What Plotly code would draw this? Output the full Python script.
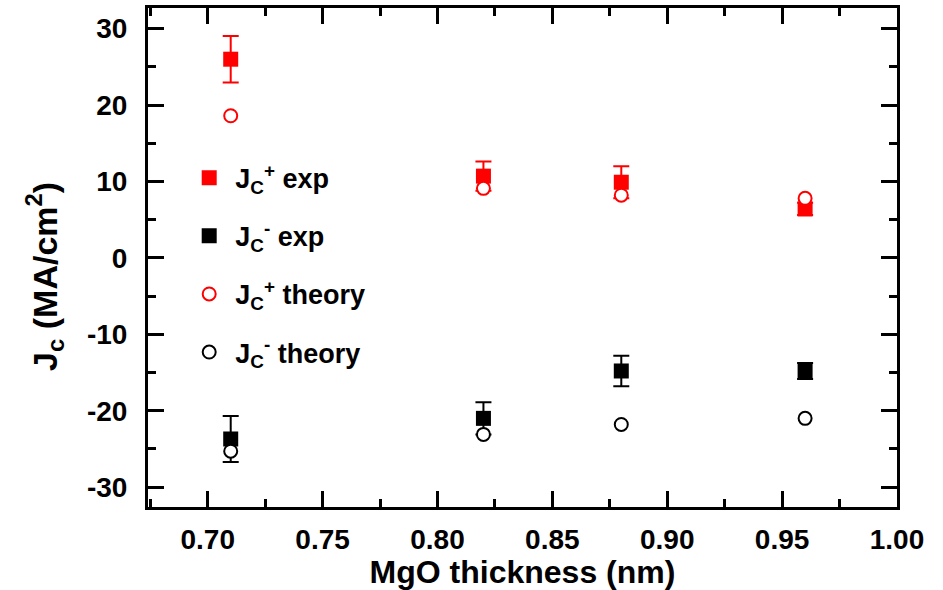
import plotly.graph_objects as go

# Data (MgO thickness in nm, Jc in MA/cm^2)
thickness = [0.71, 0.82, 0.88, 0.96]
jc_plus_exp = [26.0, 10.7, 9.9, 6.4]
jc_plus_exp_err = [3.05, 1.9, 2.1, 0.8]
jc_minus_exp = [-23.7, -21.0, -14.8, -14.8]
jc_minus_exp_err = [3.0, 2.1, 2.0, 1.05]
jc_plus_theory = [18.6, 9.1, 8.2, 7.8]
jc_minus_theory = [-25.3, -23.1, -21.8, -21.0]

x_ticks = [0.70, 0.75, 0.80, 0.85, 0.90, 0.95, 1.00]
x_ticklabels = ["0.70", "0.75", "0.80", "0.85", "0.90", "0.95", "1.00"]
y_ticks = [-30, -20, -10, 0, 10, 20, 30]
y_ticklabels = ["-30", "-20", "-10", "0", "10", "20", "30"]

RED = "#ff0000"
BLACK = "#000000"
FONT = "Liberation Sans, Arial, sans-serif"

fig = go.Figure()

fig.add_trace(go.Scatter(
    x=thickness, y=jc_plus_exp, mode="markers",
    name="<b>J<sub>C</sub><sup>+</sup> exp</b>", legendgroup="a",
    marker=dict(symbol="square", size=15, color=RED, line=dict(width=0)),
    error_y=dict(type="data", array=jc_plus_exp_err, color=RED, thickness=2, width=8),
))
fig.add_trace(go.Scatter(
    x=thickness, y=jc_minus_exp, mode="markers",
    name="<b>J<sub>C</sub><sup>-</sup> exp</b>", legendgroup="b",
    marker=dict(symbol="square", size=15, color=BLACK, line=dict(width=0)),
    error_y=dict(type="data", array=jc_minus_exp_err, color=BLACK, thickness=2, width=8),
))
fig.add_trace(go.Scatter(
    x=thickness, y=jc_plus_theory, mode="markers",
    name="<b>J<sub>C</sub><sup>+</sup> theory</b>", legendgroup="c",
    marker=dict(symbol="circle", size=13, color="white", line=dict(width=2, color=RED)),
))
fig.add_trace(go.Scatter(
    x=thickness, y=jc_minus_theory, mode="markers",
    name="<b>J<sub>C</sub><sup>-</sup> theory</b>", legendgroup="d",
    marker=dict(symbol="circle", size=13, color="white", line=dict(width=2, color=BLACK)),
))

fig.update_layout(
    width=943, height=590,
    margin=dict(l=148, r=46, t=8, b=83),
    paper_bgcolor="white", plot_bgcolor="white",
    font=dict(family=FONT, color="black", size=26),
    legend=dict(
        x=0.047, y=0.708, xanchor="left", yanchor="top",
        bgcolor="rgba(0,0,0,0)", borderwidth=0,
        font=dict(family=FONT, size=27, color="black"),
        traceorder="grouped", tracegroupgap=20, itemwidth=42,
    ),
    xaxis=dict(
        range=[0.674, 1.0], automargin=False,
        tickmode="array", tickvals=x_ticks, ticktext=x_ticklabels,
        ticks="inside", ticklen=16, tickwidth=3, tickcolor="black",
        minor=dict(dtick=0.025, ticks="inside", ticklen=8, tickwidth=3, tickcolor="black"),
        showline=True, linewidth=3, linecolor="black", mirror="allticks",
        showgrid=False, zeroline=False,
        tickfont=dict(family=FONT, size=28, color="black", weight="bold"),
        ticklabelstandoff=5,
        title=dict(text="<b>MgO thickness (nm)</b>", font=dict(family=FONT, size=32, color="black"), standoff=6),
    ),
    yaxis=dict(
        range=[-32.6, 32.7], automargin=False,
        tickmode="array", tickvals=y_ticks, ticktext=y_ticklabels,
        ticks="inside", ticklen=16, tickwidth=3, tickcolor="black",
        minor=dict(dtick=5, ticks="inside", ticklen=8, tickwidth=3, tickcolor="black"),
        showline=True, linewidth=3, linecolor="black", mirror="allticks",
        showgrid=False, zeroline=False,
        tickfont=dict(family=FONT, size=28, color="black", weight="bold"),
        ticklabelstandoff=12,
        title=dict(text="<b>J<sub>c</sub> (MA/cm<sup>2</sup>)\u00a0\u00a0\u00a0\u00a0</b>",
                   font=dict(family=FONT, size=34, color="black"), standoff=20),
    ),
    showlegend=True,
)

fig.write_html(
    "out.html",
    config={"displayModeBar": False},
    post_script="document.body.style.margin='0px';document.body.style.overflow='hidden';",
)
